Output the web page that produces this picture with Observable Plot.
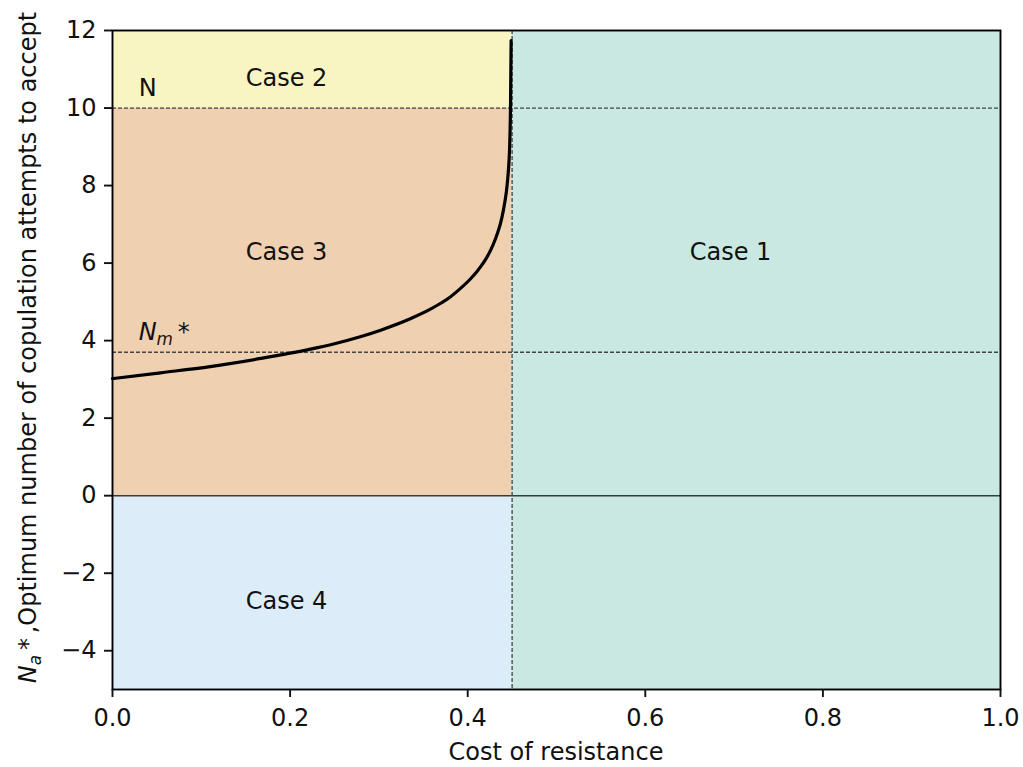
<!DOCTYPE html>
<html>
<head>
<meta charset="utf-8">
<script src="https://cdn.jsdelivr.net/npm/d3@7"></script>
<script src="https://cdn.jsdelivr.net/npm/@observablehq/plot@0.6"></script>
<style>
  html, body { margin: 0; padding: 0; background: #fff; }
  #chart svg { display: block; }
</style>
</head>
<body>
<div id="chart"></div>
<script>
// ---- data ----
const costThreshold = 0.45;
const nValue = 10;
const nmStar = 3.7;

const regionNames = ["Case 2", "Case 3", "Case 4", "Case 1"];
const regionX1 = [0, 0, 0, 0.45];
const regionX2 = [0.45, 0.45, 0.45, 1];
const regionY1 = [10, 0, -5, -5];
const regionY2 = [12, 10, 0, 12];
const regionColors = ["#f9f5c3", "#efd0b1", "#dcecf8", "#cae8e2"];

const curveCost = [0, 0.054, 0.110, 0.167, 0.223, 0.250, 0.279, 0.302, 0.336, 0.358, 0.370, 0.380, 0.390, 0.403, 0.410, 0.415, 0.420, 0.426, 0.430, 0.433, 0.437, 0.440, 0.442, 0.4437, 0.445, 0.4467, 0.4475, 0.4482, 0.4489];
const curveNa   = [3.02, 3.17, 3.33, 3.54, 3.78, 3.92, 4.10, 4.27, 4.57, 4.81, 4.97, 5.12, 5.31, 5.59, 5.77, 5.92, 6.09, 6.34, 6.55, 6.74, 7.03, 7.34, 7.60, 7.87, 8.16, 8.70, 9.20, 10.02, 11.74];

const caseLabelText = ["Case 2", "Case 3", "Case 1", "Case 4"];
const caseLabelX = [0.15, 0.15, 0.65, 0.15];
const caseLabelY = [10.5, 6, 6, -3];

const levelLabelX = 0.03;
const levelLabelY = [10.3, 4.0];   // "N" and "N_m*"

const xTicks = [0, 0.2, 0.4, 0.6, 0.8, 1.0];
const yTicks = [-4, -2, 0, 2, 4, 6, 8, 10, 12];

// ---- build tables ----
const regions = regionNames.map((name, i) => ({name, x1: regionX1[i], x2: regionX2[i], y1: regionY1[i], y2: regionY2[i], color: regionColors[i]}));
const curve = curveCost.map((c, i) => ({cost: c, na: curveNa[i]}));
const labels = caseLabelText.map((t, i) => ({text: t, x: caseLabelX[i], y: caseLabelY[i]}));

const font = "DejaVu Sans, sans-serif";
const FS = 24;
const fmtY = d => d < 0 ? "\u2212" + Math.abs(d) : String(d);

const plot = Plot.plot({
  width: 1023,
  height: 767,
  marginLeft: 112,
  marginRight: 23,
  marginTop: 30,
  marginBottom: 78,
  style: {fontFamily: font, fontSize: FS + "px", color: "#111", background: "#fff"},
  x: {domain: [0, 1]},
  y: {domain: [-5, 12]},
  marks: [
    Plot.rect(regions, {x1: "x1", x2: "x2", y1: "y1", y2: "y2", fill: d => d.color}),
    Plot.ruleY([0], {stroke: "#3a3a3a", strokeWidth: 1.5}),
    Plot.ruleY([nValue, nmStar], {stroke: "#444", strokeWidth: 1.3, strokeDasharray: "4,2"}),
    Plot.ruleX([costThreshold], {stroke: "#444", strokeWidth: 1.3, strokeDasharray: "4,2"}),
    Plot.line(curve, {x: "cost", y: "na", stroke: "black", strokeWidth: 3.2, curve: "monotone-x"}),
    Plot.text(labels, {x: "x", y: "y", text: "text", fill: "#111", fontSize: FS, textAnchor: "start", lineAnchor: "bottom", dy: -3}),
    Plot.frame({stroke: "black", strokeWidth: 1.9}),
    Plot.axisX({ticks: xTicks, tickFormat: d => d.toFixed(1), tickSize: 8, tickPadding: 11, fontSize: FS, strokeWidth: 1.9, label: null}),
    Plot.axisY({ticks: yTicks, tickFormat: fmtY, tickSize: 8, tickPadding: 8, fontSize: FS, strokeWidth: 1.9, label: null})
  ]
});
document.getElementById("chart").appendChild(plot);

// mathtext-like labels
const svg = d3.select(plot);
const sx = plot.scale("x"), sy = plot.scale("y");

// "N" label
svg.append("text")
  .attr("x", sx.apply(levelLabelX)).attr("y", sy.apply(levelLabelY[0]))
  .attr("text-anchor", "start")
  .attr("font-family", font).attr("font-size", FS).attr("fill", "#111")
  .text("N");

// N_m* label
const nm = svg.append("text")
  .attr("x", sx.apply(levelLabelX)).attr("y", sy.apply(levelLabelY[1]))
  .attr("text-anchor", "start")
  .attr("font-family", font).attr("font-size", FS).attr("fill", "#111");
nm.append("tspan").attr("font-style", "italic").text("N");
nm.append("tspan").attr("font-style", "italic").attr("font-size", FS * 0.7).attr("dy", 5).text("m");
nm.append("tspan").attr("dy", -5).text("\u2009*");

// x-axis label
svg.append("text")
  .attr("x", (sx.apply(0) + sx.apply(1)) / 2).attr("y", 760)
  .attr("text-anchor", "middle")
  .attr("font-family", font).attr("font-size", FS).attr("fill", "#111")
  .text("Cost of resistance");

// y-axis label
const ycenter = (sy.apply(12) + sy.apply(-5)) / 2 - 12;
const yl = svg.append("text")
  .attr("transform", `translate(36,${ycenter}) rotate(-90)`)
  .attr("text-anchor", "middle")
  .attr("font-family", font).attr("font-size", FS).attr("fill", "#111");
yl.append("tspan").attr("font-style", "italic").text("N");
yl.append("tspan").attr("font-style", "italic").attr("font-size", FS * 0.7).attr("dy", 5).text("a");
yl.append("tspan").attr("dy", -5).text("\u2009*\u2009,Optimum number of copulation attempts to accept");
</script>
</body>
</html>
